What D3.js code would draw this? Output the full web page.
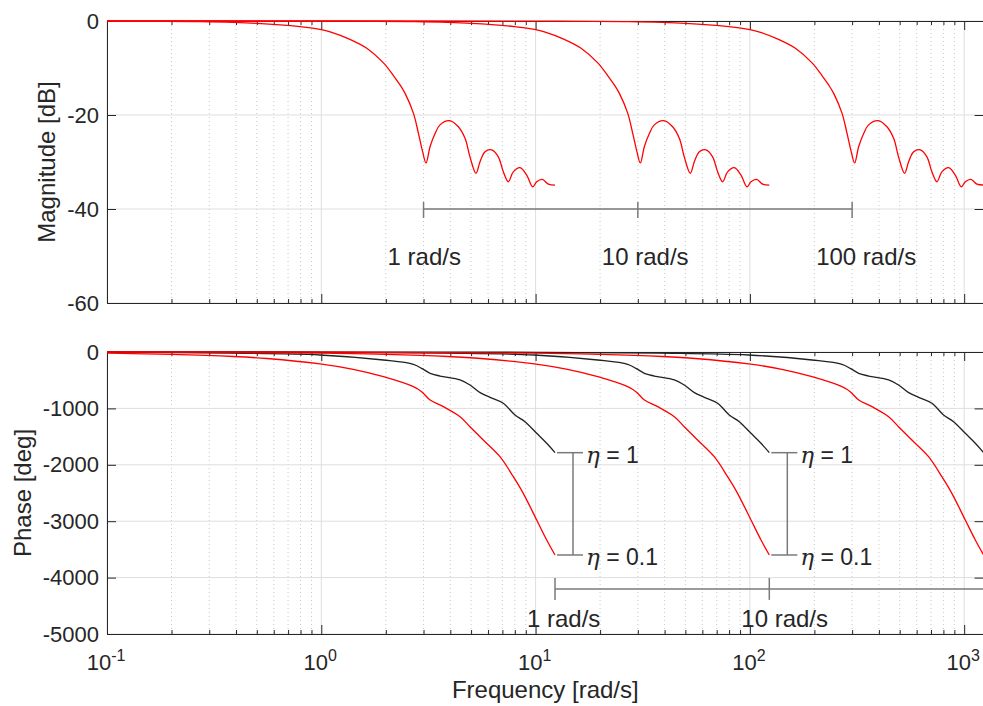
<!DOCTYPE html>
<html><head><meta charset="utf-8">
<script src="https://cdn.jsdelivr.net/npm/d3@7"></script>
<style>
body{margin:0;background:#fff}
svg{display:block}
text{font-family:"Liberation Sans",Arial,Helvetica,sans-serif;fill:#262626}
</style>
</head><body>
<svg id="c" width="983" height="706"></svg>
<script>
// ---------- data (shape of the 1 rad/s response; other curves are the same shape at 10 and 100 rad/s)
const curveScales = [1, 10, 100];
const magFreq = [0.001,0.01,0.1,0.272,0.501,0.796,0.986,1.10,1.36,1.63,1.95,2.17,2.33,2.46,2.69,2.84,2.97,3.08,3.22,3.40,3.58,3.96,4.36,4.69,4.94,5.27,5.51,5.81,6.24,6.70,7.07,7.46,7.87,8.46,9.09,9.69,10.12,10.74,11.47,12.32];
const magDb   = [0,0,-0.03,-0.15,-0.5,-1.2,-1.8,-2.3,-3.9,-5.8,-8.9,-11.6,-13.6,-15.4,-19.6,-23.9,-27.8,-30.2,-26.7,-23.9,-22.1,-21.2,-22.5,-25.0,-28.9,-32.4,-29.9,-27.8,-27.4,-28.9,-32.1,-34.2,-32.1,-31.2,-32.8,-35.3,-34.2,-33.7,-34.7,-34.9];

const phaseFreqEta1 = [0.001,0.01,0.1,0.375,0.986,1.95,2.69,2.94,3.22,3.58,4.44,4.94,5.51,6.13,7.07,8.01,8.92,10.12,11.27,12.32];
const phaseEta1     = [0,-0.5,-5,-20,-53,-142,-218,-290,-378,-426,-496,-585,-721,-804,-910,-1117,-1236,-1442,-1619,-1785];
const phaseFreqEta01 = [0.001,0.01,0.1,0.2,0.389,0.556,0.986,1.41,1.95,2.69,2.94,3.22,3.71,4.44,4.94,5.70,6.82,7.87,8.76,10.12,11.27,12.32];
const phaseEta01     = [0,-2,-21,-42,-80,-115,-210,-307,-437,-614,-703,-851,-969,-1147,-1324,-1560,-1856,-2211,-2506,-2979,-3333,-3599];

const magTicks = [0,-20,-40,-60];
const phaseTicks = [0,-1000,-2000,-3000,-4000,-5000];
const decadeTicks = [0.1,1,10,100,1000];
const decadeExp = ["-1","0","1","2","3"];

const magMarkFreq = [3,30,300];
const magMarkLabels = ["1 rad/s","10 rad/s","100 rad/s"];
const magMarkLevel = -40;
const phaseMarkFreq = [12.32,123.2];
const phaseMarkLabels = ["1 rad/s","10 rad/s"];
const phaseMarkLevel = -4200;
const etaValues = ["1","0.1"];

// ---------- layout
const svg = d3.select("#c");
const L = 107, R = 983.6;
const x = d3.scaleLog().domain([0.1, 1232]).range([L, R]);
const yMag = d3.scaleLinear().domain([-60,0]).range([303,21]);
const yPh  = d3.scaleLinear().domain([-5000,0]).range([634,352]);

const minorTicks = [];
decadeTicks.forEach(d => { for (let k=2;k<=9;k++){ const v=k*d; if (v<=1232) minorTicks.push(v);} });

const AX = "#262626";
function panel(y, yTicks){
  const [y0,y1] = y.range(); // bottom, top
  const g = svg.append("g");
  g.selectAll(".mg").data(minorTicks).join("line")
    .attr("x1",d=>x(d)).attr("x2",d=>x(d)).attr("y1",y1).attr("y2",y0)
    .attr("stroke","#c8c8c8").attr("stroke-width",1).attr("stroke-dasharray","1,3");
  g.selectAll(".Mg").data(decadeTicks).join("line")
    .attr("x1",d=>x(d)).attr("x2",d=>x(d)).attr("y1",y1).attr("y2",y0)
    .attr("stroke","#dedede").attr("stroke-width",1);
  g.selectAll(".Hg").data(yTicks).join("line")
    .attr("x1",L).attr("x2",R).attr("y1",d=>y(d)).attr("y2",d=>y(d))
    .attr("stroke","#dedede").attr("stroke-width",1);
  const styleAx = sel => { sel.selectAll("path.domain").attr("stroke",AX).attr("stroke-width",1);
                           sel.selectAll(".tick line").attr("stroke",AX).attr("stroke-width",1); };
  g.append("g").attr("transform",`translate(${L},0)`)
    .call(d3.axisLeft(y).tickValues(yTicks).tickSize(-9).tickSizeOuter(0).tickPadding(8).tickFormat(d=>String(d)))
    .call(styleAx)
    .call(s=>s.selectAll("text").attr("font-size",22).attr("fill","#262626").attr("font-family",null));
  g.append("g").attr("transform",`translate(${R},0)`)
    .call(d3.axisRight(y).tickValues(yTicks).tickSize(-9).tickSizeOuter(0).tickFormat(""))
    .call(styleAx);
  [[d3.axisTop,y1],[d3.axisBottom,y0]].forEach(([ax,yy])=>{
    g.append("g").attr("transform",`translate(0,${yy})`)
      .call(ax(x).tickValues(minorTicks).tickSize(-4).tickSizeOuter(0).tickFormat(""))
      .call(styleAx);
    g.append("g").attr("transform",`translate(0,${yy})`)
      .call(ax(x).tickValues(decadeTicks).tickSize(-9).tickSizeOuter(0).tickFormat(""))
      .call(styleAx);
  });
  return g;
}

const gMag = panel(yMag, magTicks);
const gPh = panel(yPh, phaseTicks);

// x tick labels (bottom panel)
const xl = svg.append("g");
decadeTicks.forEach((d,i)=>{
  const t = xl.append("text").attr("x",x(d)-1).attr("y",670).attr("text-anchor","middle").attr("font-size",22);
  t.append("tspan").text("10");
  t.append("tspan").attr("dy",-9).attr("font-size",16).text(decadeExp[i]);
});

// axis labels
svg.append("text").attr("transform",`translate(55,${(21+303)/2}) rotate(-90)`).attr("text-anchor","middle").attr("font-size",24).text("Magnitude [dB]");
svg.append("text").attr("transform",`translate(31,${(352+634)/2}) rotate(-90)`).attr("text-anchor","middle").attr("font-size",24).text("Phase [deg]");
svg.append("text").attr("x",(L+R)/2).attr("y",698).attr("text-anchor","middle").attr("font-size",24).text("Frequency [rad/s]");

// ---------- curves
const lineGen = d3.line().curve(d3.curveCatmullRom.alpha(0.5));
curveScales.forEach(s=>{
  const pts = magFreq.map((f,i)=>[x(f*s), yMag(magDb[i])]).filter(p=>p[0]>=L-1);
  gMag.append("path").attr("d",lineGen(pts)).attr("fill","none").attr("stroke","#ff0000").attr("stroke-width",1.3);
});
curveScales.forEach(s=>{
  const p1 = phaseFreqEta1.map((f,i)=>[x(f*s), yPh(phaseEta1[i])]).filter(p=>p[0]>=L-1);
  gPh.append("path").attr("d",lineGen(p1)).attr("fill","none").attr("stroke","#222").attr("stroke-width",1.3);
  const p2 = phaseFreqEta01.map((f,i)=>[x(f*s), yPh(phaseEta01[i])]).filter(p=>p[0]>=L-1);
  gPh.append("path").attr("d",lineGen(p2)).attr("fill","none").attr("stroke","#ff0000").attr("stroke-width",1.3);
});

// ---------- annotations
const AN = "#7a7a7a";
const ym = yMag(magMarkLevel);
svg.append("line").attr("x1",x(magMarkFreq[0])).attr("x2",x(magMarkFreq[magMarkFreq.length-1]))
  .attr("y1",ym).attr("y2",ym).attr("stroke",AN).attr("stroke-width",1.5);
magMarkFreq.forEach((f,i)=>{
  svg.append("line").attr("x1",x(f)).attr("x2",x(f)).attr("y1",ym-7).attr("y2",ym+9).attr("stroke",AN).attr("stroke-width",1.5);
  svg.append("text").attr("x",x(f)-36).attr("y",265).attr("font-size",24).text(magMarkLabels[i]);
});
const yp = yPh(phaseMarkLevel);
svg.append("line").attr("x1",x(phaseMarkFreq[0])).attr("x2",R)
  .attr("y1",yp).attr("y2",yp).attr("stroke",AN).attr("stroke-width",1.5);
phaseMarkFreq.forEach((f,i)=>{
  svg.append("line").attr("x1",x(f)).attr("x2",x(f)).attr("y1",yp-11).attr("y2",yp+11).attr("stroke",AN).attr("stroke-width",1.5);
  svg.append("text").attr("x",x(f)-28).attr("y",627).attr("font-size",24).text(phaseMarkLabels[i]);
  const xe = x(f);
  const yTop = yPh(phaseEta1[phaseEta1.length-1]);
  const yBot = yPh(phaseEta01[phaseEta01.length-1]);
  [yTop,yBot].forEach((yy,j)=>{
    svg.append("line").attr("x1",xe+2).attr("x2",xe+28).attr("y1",yy).attr("y2",yy).attr("stroke",AN).attr("stroke-width",1.5);
    const t = svg.append("text").attr("x",xe+31).attr("y",yy+10).attr("font-size",23);
    t.append("tspan").attr("font-family","'DejaVu Serif','Liberation Serif',serif").attr("font-style","italic").text("η");
    t.append("tspan").text(" = "+etaValues[j]);
  });
  svg.append("line").attr("x1",xe+18).attr("x2",xe+18).attr("y1",yTop).attr("y2",yBot).attr("stroke",AN).attr("stroke-width",1.5);
});
</script>
</body></html>
